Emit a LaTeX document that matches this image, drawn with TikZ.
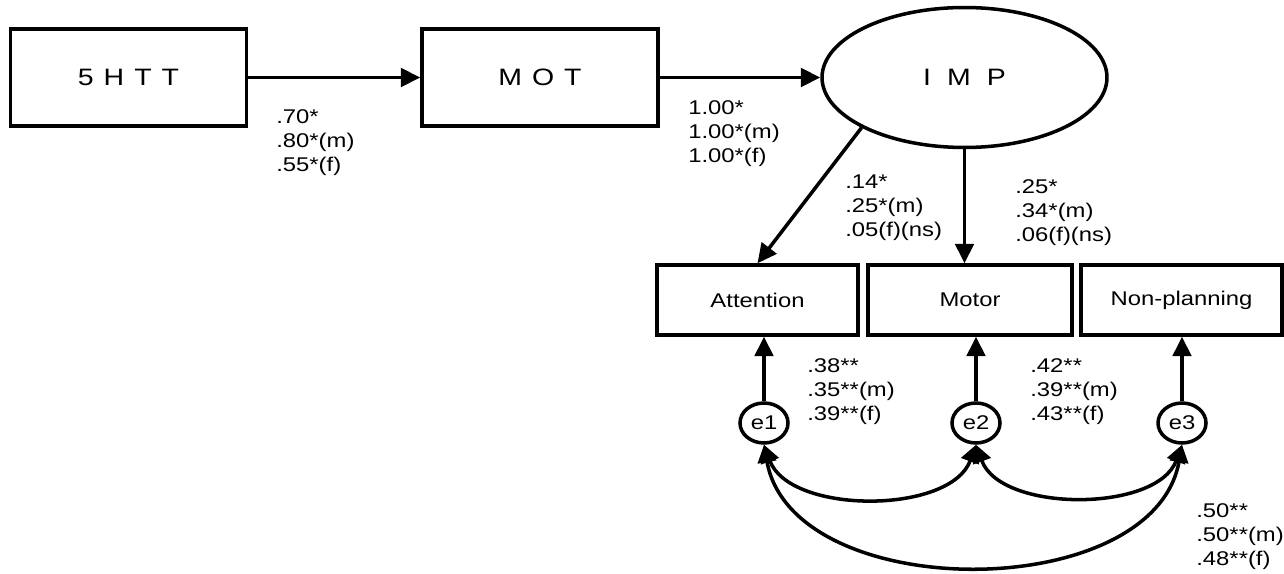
\documentclass[tikz,border=0pt]{standalone}
\usepackage{fontspec}
\setmainfont{Liberation Sans}[FakeStretch=1.2]
\usetikzlibrary{arrows.meta, shapes.geometric, positioning}

\begin{document}
\begin{tikzpicture}[x=0.02cm, y=0.02cm,
    every node/.style={font=\fontsize{11.3}{13.6}\selectfont},
    var/.style={draw, line width=2pt, inner sep=0pt, minimum height=1.4cm, minimum width=4.02cm},
    bigvar/.style={var, minimum width=4.72cm, minimum height=1.94cm, font={\fontsize{13.5}{16}\selectfont\spaceskip=0.2cm\relax}},
    latent/.style={draw, ellipse, line width=2pt, inner sep=0pt, minimum width=5.7cm, minimum height=2.8cm, font={\fontsize{13.5}{16}\selectfont\spaceskip=0.32cm\relax}},
    err/.style={draw, ellipse, line width=2pt, inner sep=0pt, minimum width=0.96cm, minimum height=0.8cm},
    coef/.style={anchor=west, inner sep=0pt, align=left},
    effect/.style={line width=2pt, -{Triangle[length=11pt,width=10.5pt]}},
    cov/.style={line width=2pt, {Triangle[length=10pt,width=10.5pt]}-{Triangle[length=10pt,width=10.5pt]}}
]
    \useasboundingbox (0,0) rectangle (1284,-574);

    % Draw the variables
    \node[bigvar] (HTT) at (128.5,-77.5) {5 H T T};
    \node[bigvar] (MOT) at (540,-77.5) {M O T};
    \node[latent] (IMP) at (964.5,-77.5) {I M P};

    \node[var] (Att) at (757.5,-300) {Attention};
    \node[var, minimum width=4.08cm] (Mot) at (970,-300) {Motor};
    \node[var] (Non) at (1181.5,-300) {Non-planning};

    % Error terms
    \node[err] (e1) at (764,-423) {e1};
    \node[err] (e2) at (976,-423) {e2};
    \node[err] (e3) at (1182,-423) {e3};

    % Draw the paths
    \draw[effect] (HTT) -- (MOT);
    \draw[effect] (MOT) -- (IMP);
    \draw[effect] (IMP.206) -- (Att.north);
    \draw[effect] (IMP.south) -- (IMP.south |- Mot.north);
    \draw[effect] (e1) -- (e1 |- Att.south);
    \draw[effect] (e2) -- (e2 |- Mot.south);
    \draw[effect] (e3) -- (e3 |- Non.south);

    % Covariances between the errors
    \draw[cov] (e1.south) to[out=-70,in=-110,looseness=0.9] (e2.south);
    \draw[cov] (e2.south) to[out=-70,in=-110,looseness=0.9] (e3.south);
    \draw[cov] (e1.south) to[out=-80,in=-100] (e3.south);

    % Label the coefficients
    \node[coef] (c1) at (276,-143) {.70*\\.80*(m)\\.55*(f)};
    \node[coef] (c2) at (688,-134) {1.00*\\1.00*(m)\\1.00*(f)};
    \node[coef] (c3) at (845,-208) {.14*\\.25*(m)\\.05(f)(ns)};
    \node[coef] (c4) at (1015,-213) {.25*\\.34*(m)\\.06(f)(ns)};
    \node[coef] (c5) at (807,-392) {.38**\\.35**(m)\\.39**(f)};
    \node[coef] (c6) at (1030,-392) {.42**\\.39**(m)\\.43**(f)};
    \node[coef] (c7) at (1196,-537) {.50**\\.50**(m)\\.48**(f)};
\end{tikzpicture}
\end{document}
